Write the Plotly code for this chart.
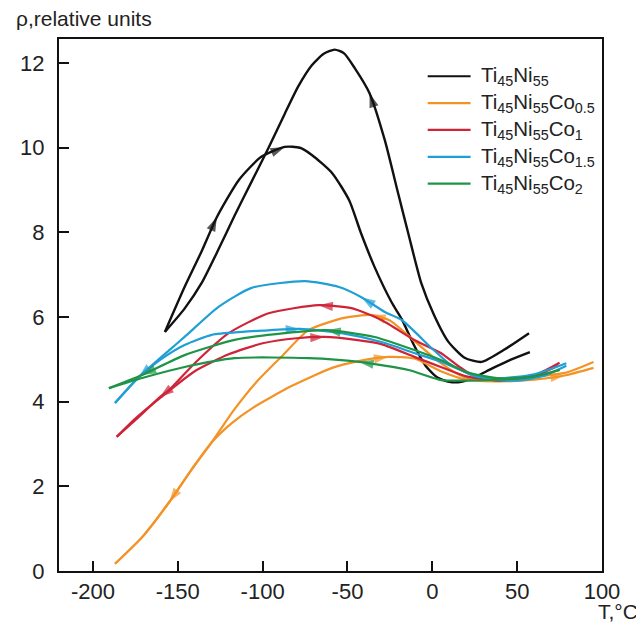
import plotly.graph_objects as go

# ---------------- data (T in °C, rho in relative units), traversal order -------------
ti_ni_heat_T = [-157.6, -146, -136, -127, -114, -101, -87, -78, -71, -59, -49, -42, -34, -24, -18, -11, -4, 3, 10, 17, 25, 35, 45, 57.5]
ti_ni_heat_rho = [5.65, 6.71, 7.55, 8.36, 9.24, 9.78, 10.02, 10.0, 9.83, 9.40, 8.76, 7.98, 7.18, 6.35, 5.95, 5.35, 4.85, 4.57, 4.47, 4.47, 4.58, 4.78, 4.97, 5.17]
ti_ni_cool_T = [57, 42, 29, 19, 9.4, 1, -6.5, -14, -20, -28, -37, -46, -52, -57.5, -64, -71, -79, -87, -96.5, -106.5, -116.5, -126, -136, -146, -157.6]
ti_ni_cool_rho = [5.62, 5.22, 4.94, 5.04, 5.42, 6.05, 6.8, 7.95, 8.9, 10.18, 11.29, 11.9, 12.23, 12.32, 12.22, 11.95, 11.45, 10.8, 10.0, 9.2, 8.4, 7.6, 6.8, 6.2, 5.65]

co05_cool_T = [95, 78, 54, 35, 19, 5, -11, -25, -36, -52, -73, -89, -104, -117, -130, -142, -155, -171, -187]
co05_cool_rho = [4.94, 4.68, 4.58, 4.56, 4.58, 4.91, 5.45, 5.92, 6.05, 5.98, 5.69, 5.06, 4.45, 3.8, 3.04, 2.39, 1.63, 0.80, 0.17]
co05_heat_T = [-187, -171, -155, -142, -130, -118, -106, -83, -59, -43.5, -26, -10.6, 5, 20, 40, 60, 78, 95]
co05_heat_rho = [0.17, 0.80, 1.63, 2.39, 3.04, 3.50, 3.85, 4.37, 4.80, 4.96, 5.06, 5.02, 4.72, 4.52, 4.48, 4.52, 4.62, 4.80]

co1_cool_T = [75, 60, 40, 25, 15, 5, -10.6, -30, -47.6, -67, -96.5, -120, -140, -155, -160.6, -173, -186]
co1_cool_rho = [4.92, 4.62, 4.5, 4.6, 4.85, 5.15, 5.46, 5.93, 6.21, 6.28, 6.09, 5.62, 4.91, 4.28, 4.11, 3.64, 3.17]
co1_heat_T = [-186, -175, -160, -140, -120, -100, -80, -63.5, -45, -30, -10.6, 5, 20, 40, 60, 74]
co1_heat_rho = [3.17, 3.6, 4.1, 4.72, 5.12, 5.38, 5.5, 5.53, 5.46, 5.36, 5.06, 4.82, 4.6, 4.5, 4.6, 4.85]

co15_cool_T = [79, 60, 40, 25, 10, 0, -18, -28, -41.8, -55, -75, -106.5, -126, -146, -155, -173, -187]
co15_cool_rho = [4.91, 4.65, 4.55, 4.6, 4.9, 5.25, 5.93, 6.12, 6.47, 6.71, 6.85, 6.69, 6.24, 5.53, 5.22, 4.58, 3.97]
co15_heat_T = [-187, -173, -160, -146, -130, -112, -100, -78, -53.5, -30, -10.6, 5.3, 20, 35, 50, 65, 79]
co15_heat_rho = [3.97, 4.58, 5.0, 5.34, 5.58, 5.65, 5.68, 5.72, 5.62, 5.41, 5.15, 4.94, 4.7, 4.52, 4.5, 4.6, 4.85]

co2_upper_T = [75, 60, 40, 20, 5.3, -10.6, -34, -62.4, -87, -116.5, -146, -171, -190.6]
co2_upper_rho = [4.75, 4.6, 4.55, 4.7, 4.98, 5.22, 5.53, 5.69, 5.62, 5.46, 5.10, 4.63, 4.32]
co2_lower_T = [75, 60, 40, 20, 5.3, -14, -43, -73, -116.5, -146, -171, -190.6]
co2_lower_rho = [4.75, 4.6, 4.52, 4.5, 4.51, 4.75, 4.94, 5.03, 5.03, 4.82, 4.56, 4.32]

series_names = [
    "Ti<sub>45</sub>Ni<sub>55</sub>",
    "Ti<sub>45</sub>Ni<sub>55</sub>Co<sub>0.5</sub>",
    "Ti<sub>45</sub>Ni<sub>55</sub>Co<sub>1</sub>",
    "Ti<sub>45</sub>Ni<sub>55</sub>Co<sub>1.5</sub>",
    "Ti<sub>45</sub>Ni<sub>55</sub>Co<sub>2</sub>",
]
series_colors = ["#111111", "#F39325", "#CF2338", "#1F9FD6", "#1E9447"]

x_ticks = [-200, -150, -100, -50, 0, 50, 100]
x_tick_labels = ["-200", "-150", "-100", "-50", "0", "50", "100"]
y_ticks = [0, 2, 4, 6, 8, 10, 12]
y_tick_labels = ["0", "2", "4", "6", "8", "10", "12"]

# branches: (series index, T, rho, arrow point indices)
branches = [
    (0, ti_ni_heat_T, ti_ni_heat_rho, [3, 6]),
    (0, ti_ni_cool_T, ti_ni_cool_rho, [10]),
    (1, co05_cool_T, co05_cool_rho, [8, 16]),
    (1, co05_heat_T, co05_heat_rho, [10, 16]),
    (2, co1_cool_T, co1_cool_rho, [9, 14]),
    (2, co1_heat_T, co1_heat_rho, [7]),
    (3, co15_cool_T, co15_cool_rho, [8, 15]),
    (3, co15_heat_T, co15_heat_rho, [7]),
    (4, co2_upper_T, co2_upper_rho, [7, 11]),
    (4, co2_lower_T, co2_lower_rho, [6]),
]

fig = go.Figure()
for si, T, R, arrows in branches:
    col = series_colors[si]
    fig.add_trace(go.Scatter(
        x=T, y=R, mode="lines",
        line=dict(color=col, width=2.4 if si == 0 else 2.2, shape="spline", smoothing=0.6),
        name=series_names[si], showlegend=False, hoverinfo="skip"))
    for k in arrows:
        fig.add_trace(go.Scatter(
            x=[T[k - 1], T[k]], y=[R[k - 1], R[k]], mode="markers",
            marker=dict(symbol="arrow", size=[0, 15], color=col,
                        angleref="previous", angle=0, line=dict(width=0)),
            showlegend=False, hoverinfo="skip"))

font_family = "Liberation Sans, Arial, sans-serif"
text_color = "#222222"
axis_common = dict(
    showline=True, linecolor="#111111", linewidth=2, mirror=True,
    ticks="inside", ticklen=10, tickwidth=2, tickcolor="#111111",
    showgrid=False, zeroline=False,
    tickfont=dict(family=font_family, size=22, color=text_color),
)
fig.update_xaxes(range=[-220, 100], tickvals=x_ticks, ticktext=x_tick_labels,
                 ticklabelstandoff=0, **axis_common)
fig.update_yaxes(range=[0, 12.57], tickvals=y_ticks, ticktext=y_tick_labels,
                 ticklabelstandoff=8, **axis_common)

# hand-drawn legend (long sample lines like the reference)
legend_line_x0, legend_line_x1, legend_text_x = 0.679, 0.758, 0.774
legend_top, legend_step = 0.930, 0.0505
shapes, annotations = [], []
for i, (name, col) in enumerate(zip(series_names, series_colors)):
    yy = legend_top - i * legend_step
    shapes.append(dict(type="line", xref="paper", yref="paper",
                       x0=legend_line_x0, x1=legend_line_x1, y0=yy, y1=yy,
                       line=dict(color=col, width=2.2)))
    annotations.append(dict(text=name, xref="paper", yref="paper", x=legend_text_x, y=yy,
                            xanchor="left", yanchor="middle", showarrow=False,
                            font=dict(size=20.5, family=font_family, color=text_color)))

annotations += [
    dict(text="ρ,relative units", xref="paper", yref="paper", x=-0.082, y=1.039,
         xanchor="left", yanchor="middle", showarrow=False,
         font=dict(size=21, family=font_family, color=text_color)),
    dict(text="T,°C", xref="paper", yref="paper", x=1.07, y=-0.077,
         xanchor="right", yanchor="middle", showarrow=False,
         font=dict(size=21, family=font_family, color=text_color)),
]

# page shows the figure offset by the 8px body margin, so margins are compensated
fig.update_layout(
    width=636, height=622,
    margin=dict(l=49, r=42, t=31, b=59),
    paper_bgcolor="white", plot_bgcolor="white",
    font=dict(family=font_family, color=text_color),
    showlegend=False,
    shapes=shapes,
    annotations=annotations,
)

fig.write_html("out.html")
